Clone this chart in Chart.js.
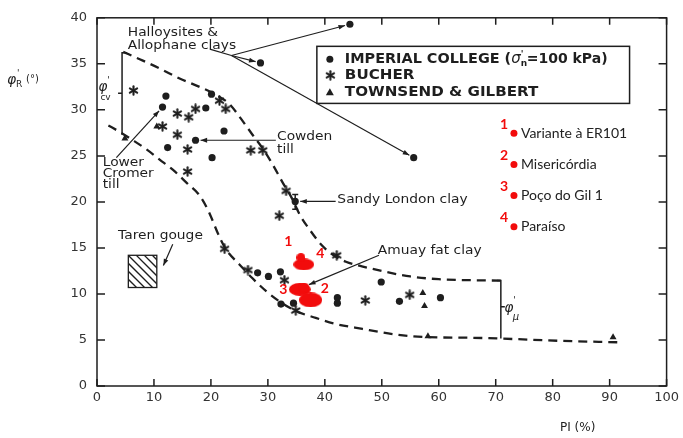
<!DOCTYPE html>
<html>
<head>
<meta charset="utf-8">
<script src="https://cdn.jsdelivr.net/npm/chart.js@4.4.0/dist/chart.umd.min.js"></script>
<style>
  html, body { margin: 0; padding: 0; background: #fff; }
</style>
</head>
<body>
<canvas id="chart" width="683" height="438"></canvas>
<script>
'use strict';

// Imperial College ring shear (circles)
const imperialX = [12.1, 11.5, 20.1, 19.1, 22.3, 17.3, 12.4, 20.2, 28.7, 44.4, 55.6, 34.8,
                   28.2, 30.1, 32.2, 32.3, 34.5, 42.2, 42.2, 49.9, 53.1, 60.3];
const imperialY = [31.5, 30.3, 31.7, 30.2, 27.7, 26.7, 25.9, 24.8, 35.1, 39.3, 24.8, 20.05,
                   12.3, 11.9, 12.4, 8.9, 9.0, 9.6, 9.0, 11.3, 9.2, 9.6];

// Bucher (stars)
const bucherX = [6.4, 14.1, 16.1, 17.3, 21.5, 22.6, 11.5, 14.1, 15.9, 15.9, 27.0, 29.1,
                 33.2, 32.0, 22.4, 42.1, 26.5, 32.9, 34.9, 47.1, 54.9];
const bucherY = [32.1, 29.6, 29.2, 30.1, 31.0, 30.1, 28.2, 27.3, 25.7, 23.3, 25.6, 25.6,
                 21.2, 18.5, 14.9, 14.2, 12.6, 11.5, 8.2, 9.3, 9.9];

// Townsend & Gilbert (triangles)
const townsendX = [4.9, 10.5, 57.2, 57.5, 58.1, 90.6];
const townsendY = [26.9, 28.2, 10.1, 8.7, 5.4, 5.3];

// envelope curves (dashed)
const upperX = [4.6, 7.5, 11, 14.5, 18, 21, 23.3, 25.2, 27.3, 29.1, 30.8, 32.6, 34.3, 35.6,
                37.2, 39.3, 41.1, 43.7, 46.5, 50.7, 55, 60, 65, 70.9];
const upperY = [36.3, 35.5, 34.5, 33.4, 32.5, 31.6, 30.6, 29.1, 27.3, 25.8, 24.1, 22.1, 20.3, 18.6,
                17.1, 15.4, 14.4, 13.5, 13.0, 12.4, 11.9, 11.6, 11.5, 11.45];
const lowerX = [2, 4, 6.3, 8.7, 11, 13.3, 15.7, 18, 19.5, 21.5, 22.7, 25, 27.3, 29.7, 32, 34.9,
                38.4, 41.5, 46.6, 52.4, 58.2, 65, 71, 81.5, 91.4];
const lowerY = [28.3, 27.6, 26.7, 25.7, 24.6, 23.5, 22.1, 20.7, 19.1, 16.2, 14.8, 13.2, 11.7, 10.3, 9.2, 8.15,
                7.4, 6.8, 6.2, 5.6, 5.3, 5.25, 5.15, 4.9, 4.75];

// local samples (red marks)
const siteNames = ['Variante à ER101', 'Misericórdia', 'Poço do Gil 1', 'Paraíso'];
const siteX = [36.3, 35.8, 35.6, 36.3, 37.5];
const siteY = [13.2, 13.95, 10.5, 10.7, 9.35];

// axis ticks
const xTicks = [0, 10, 20, 30, 40, 50, 60, 70, 80, 90, 100];
const yTicks = [0, 5, 10, 15, 20, 25, 30, 35, 40];

const INK = '#1e1e1e';
const RED = '#f20c0c';
const SCAN_FONT = '"DejaVu Sans", sans-serif';

const toPoints = (xs, ys) => xs.map((x, i) => ({ x, y: ys[i] }));

// marker images
function makeStar() {
  const c = document.createElement('canvas');
  c.width = 11; c.height = 11;
  const g = c.getContext('2d');
  g.strokeStyle = INK;
  g.lineWidth = 2.1;
  g.lineCap = 'round';
  [90, 30, 150].forEach(a => {
    const r = a * Math.PI / 180;
    g.beginPath();
    g.moveTo(5.5 - 4.2 * Math.cos(r), 5.5 - 4.2 * Math.sin(r));
    g.lineTo(5.5 + 4.2 * Math.cos(r), 5.5 + 4.2 * Math.sin(r));
    g.stroke();
  });
  return c;
}

function makeBlob(w, h) {
  const c = document.createElement('canvas');
  c.width = w; c.height = h;
  const g = c.getContext('2d');
  g.fillStyle = RED;
  g.beginPath();
  g.ellipse(w / 2, h / 2, w / 2, h / 2, 0, 0, Math.PI * 2);
  g.fill();
  return c;
}

const starImg = makeStar();
const siteStyles = [makeBlob(21, 12), makeBlob(9, 9), makeBlob(22, 13), makeBlob(11, 10), makeBlob(23, 15)];

// annotations (data coordinates)
const arrows = [
  { from: [23.6, 35.9], to: [44.4, 39.3] },
  { from: [23.6, 35.9], to: [28.7, 35.1] },
  { from: [23.6, 35.9], to: [55.6, 24.8] },
  { from: [31.4, 26.7], to: [17.3, 26.7] },
  { from: [3.4, 24.8], to: [11.5, 30.3] },
  { from: [41.9, 20.05], to: [34.8, 20.05] },
  { from: [13.3, 15.4], to: [11.3, 12.6] },
  { from: [49.5, 14.2], to: [36.4, 10.8] }
];

const notes = [
  { text: 'Halloysites &', x: 5.4, y: 38.4 },
  { text: 'Allophane clays', x: 5.4, y: 36.9 },
  { text: 'Cowden', x: 31.6, y: 27.1 },
  { text: 'till', x: 31.6, y: 25.7 },
  { text: 'Lower', x: 1.0, y: 24.2 },
  { text: 'Cromer', x: 1.0, y: 23.0 },
  { text: 'till', x: 1.0, y: 21.8 },
  { text: 'Sandy London clay', x: 42.2, y: 20.2 },
  { text: 'Taren gouge', x: 3.7, y: 16.3 },
  { text: 'Amuay fat clay', x: 49.3, y: 14.7 }
];

const siteLabels = [
  { text: '1', x: 33.6, y: 15.7 },
  { text: '4', x: 39.2, y: 14.4 },
  { text: '3', x: 32.7, y: 10.5 },
  { text: '2', x: 40.0, y: 10.6 }
];

function drawArrow(ctx, x1, y1, x2, y2) {
  const a = Math.atan2(y2 - y1, x2 - x1);
  const ex = x2 - 5 * Math.cos(a), ey = y2 - 5 * Math.sin(a);
  ctx.beginPath();
  ctx.moveTo(x1, y1);
  ctx.lineTo(ex, ey);
  ctx.stroke();
  ctx.beginPath();
  ctx.moveTo(ex, ey);
  ctx.lineTo(ex - 7 * Math.cos(a - 0.35), ey - 7 * Math.sin(a - 0.35));
  ctx.lineTo(ex - 7 * Math.cos(a + 0.35), ey - 7 * Math.sin(a + 0.35));
  ctx.closePath();
  ctx.fill();
}

// the scanned lettering is wide and low, so stretch it sideways
function wideText(ctx, text, x, y, sx) {
  ctx.save();
  ctx.translate(x, y);
  ctx.scale(sx, 1);
  ctx.fillText(text, 0, 0);
  const w = ctx.measureText(text).width * sx;
  ctx.restore();
  return w;
}

const scanPlugin = {
  id: 'scan',
  afterDatasetsDraw(chart) {
    const ctx = chart.ctx;
    const { left, right, top, bottom } = chart.chartArea;
    const sx = chart.scales.x, sy = chart.scales.y;
    const px = v => sx.getPixelForValue(v);
    const py = v => sy.getPixelForValue(v);

    ctx.save();
    ctx.strokeStyle = INK;
    ctx.fillStyle = INK;
    ctx.lineWidth = 1.5;

    // frame and inward ticks
    ctx.strokeRect(left, top, right - left, bottom - top);
    xTicks.forEach(v => {
      const x = px(v);
      ctx.beginPath();
      ctx.moveTo(x, bottom); ctx.lineTo(x, bottom - 7);
      ctx.moveTo(x, top); ctx.lineTo(x, top + 7);
      ctx.stroke();
    });
    yTicks.forEach(v => {
      const y = py(v);
      ctx.beginPath();
      ctx.moveTo(left, y); ctx.lineTo(left + 8, y);
      ctx.moveTo(right, y); ctx.lineTo(right - 8, y);
      ctx.stroke();
    });

    // Halloysites lead line + arrows
    ctx.lineWidth = 1.2;
    ctx.beginPath();
    ctx.moveTo(px(19.8), py(36.6));
    ctx.lineTo(px(23.6), py(35.9));
    ctx.stroke();
    arrows.forEach(a => drawArrow(ctx, px(a.from[0]), py(a.from[1]), px(a.to[0]), py(a.to[1])));

    // Sandy London clay error bar
    ctx.lineWidth = 1.5;
    const ex = px(34.8);
    ctx.beginPath();
    ctx.moveTo(ex, py(20.8)); ctx.lineTo(ex, py(19.2));
    ctx.moveTo(ex - 3, py(20.8)); ctx.lineTo(ex + 3, py(20.8));
    ctx.moveTo(ex - 3, py(19.2)); ctx.lineTo(ex + 3, py(19.2));
    ctx.stroke();

    // phi'cv bracket
    const bx = px(4.4);
    ctx.beginPath();
    ctx.moveTo(bx + 5, py(36.2)); ctx.lineTo(bx, py(36.2));
    ctx.lineTo(bx, py(27.3));
    ctx.moveTo(bx, py(31.8)); ctx.lineTo(bx - 4, py(31.8));
    ctx.stroke();

    // phi'mu bracket
    const mx = px(70.9);
    ctx.beginPath();
    ctx.moveTo(mx - 4, py(11.45)); ctx.lineTo(mx, py(11.45));
    ctx.lineTo(mx, py(5.15));
    ctx.moveTo(mx, py(8.6)); ctx.lineTo(mx + 4, py(8.6));
    ctx.stroke();

    // Taren gouge hatched box
    const hx0 = px(5.5), hx1 = px(10.5), hy0 = py(14.2), hy1 = py(10.7);
    ctx.lineWidth = 1.3;
    ctx.strokeRect(hx0, hy0, hx1 - hx0, hy1 - hy0);
    ctx.save();
    ctx.beginPath();
    ctx.rect(hx0, hy0, hx1 - hx0, hy1 - hy0);
    ctx.clip();
    for (let d = -40; d < 40; d += 8) {
      ctx.beginPath();
      ctx.moveTo(hx0 + d, hy0);
      ctx.lineTo(hx0 + d + (hy1 - hy0), hy1);
      ctx.stroke();
    }
    ctx.restore();

    // scan annotations
    ctx.font = '12px ' + SCAN_FONT;
    ctx.textBaseline = 'middle';
    ctx.textAlign = 'left';
    notes.forEach(n => wideText(ctx, n.text, px(n.x), py(n.y), 1.15));

    // greek labels
    ctx.font = 'italic 14px ' + SCAN_FONT;
    ctx.fillText('φ', px(0.2), py(32.4));
    ctx.fillText('φ', px(71.5), py(8.4));
    ctx.font = '9px ' + SCAN_FONT;
    ctx.fillText('\'', px(1.8), py(33.2));
    ctx.fillText('cv', px(0.6), py(31.3));
    ctx.fillText('\'', px(73.1), py(9.3));
    ctx.font = 'italic 10px ' + SCAN_FONT;
    ctx.fillText('μ', px(73.0), py(7.5));

    // legend box
    const lx0 = px(38.6), lx1 = px(93.5), ly0 = py(36.9), ly1 = py(30.7);
    ctx.lineWidth = 1.5;
    ctx.strokeRect(lx0, ly0, lx1 - lx0, ly1 - ly0);
    const rows = [ly0 + 13, ly0 + 29, ly0 + 46];
    ctx.beginPath();
    ctx.arc(lx0 + 13, rows[0], 3.5, 0, Math.PI * 2);
    ctx.fill();
    ctx.drawImage(starImg, lx0 + 8, rows[1] - 5.5);
    ctx.beginPath();
    ctx.moveTo(lx0 + 13, rows[2] - 4); ctx.lineTo(lx0 + 17, rows[2] + 3); ctx.lineTo(lx0 + 9, rows[2] + 3);
    ctx.closePath(); ctx.fill();
    ctx.font = 'bold 14px ' + SCAN_FONT;
    let tx = lx0 + 28;
    tx += wideText(ctx, 'IMPERIAL COLLEGE (', tx, rows[0], 1.03);
    ctx.font = 'italic 15px ' + SCAN_FONT;
    ctx.fillText('σ', tx, rows[0]);
    const sw = ctx.measureText('σ').width;
    ctx.font = 'bold 9px ' + SCAN_FONT;
    ctx.fillText('\'', tx + sw, rows[0] - 5);
    ctx.fillText('n', tx + sw, rows[0] + 4);
    tx += sw + 6;
    ctx.font = 'bold 14px ' + SCAN_FONT;
    wideText(ctx, '=100 kPa)', tx, rows[0], 1.0);
    wideText(ctx, 'BUCHER', lx0 + 28, rows[1], 1.08);
    wideText(ctx, 'TOWNSEND & GILBERT', lx0 + 28, rows[2], 1.08);

    // red site legend
    const rx = px(73.2);
    siteNames.forEach((name, i) => {
      const ry = py(27.45 - i * 3.38);
      ctx.fillStyle = RED;
      ctx.beginPath();
      ctx.arc(rx, ry, 3.5, 0, Math.PI * 2);
      ctx.fill();
      ctx.font = 'bold 14px Lato, sans-serif';
      ctx.fillText(String(i + 1), rx - 14, ry - 9);
      ctx.font = '14px Lato, "Open Sans", sans-serif';
      ctx.fillStyle = '#222';
      ctx.fillText(name, rx + 7, ry);
    });

    // red point numbers
    ctx.fillStyle = RED;
    ctx.font = 'bold 14px Lato, sans-serif';
    ctx.textAlign = 'center';
    siteLabels.forEach(l => ctx.fillText(l.text, px(l.x), py(l.y)));

    // axis titles
    ctx.fillStyle = INK;
    ctx.textAlign = 'left';
    ctx.font = 'italic 14px ' + SCAN_FONT;
    ctx.fillText('φ', 7, 80);
    ctx.font = '9px ' + SCAN_FONT;
    ctx.fillText('\'', 17, 74);
    ctx.fillText('R', 16, 85);
    ctx.font = '10px ' + SCAN_FONT;
    ctx.fillText('(°)', 26, 79);
    ctx.font = '12px ' + SCAN_FONT;
    ctx.fillText('PI (%)', 560, 428);
    ctx.restore();
  }
};

new Chart(document.getElementById('chart'), {
  type: 'scatter',
  data: {
    datasets: [
      {
        type: 'line',
        data: toPoints(upperX, upperY),
        borderColor: INK,
        borderWidth: 2.3,
        borderDash: [9, 6],
        pointRadius: 0,
        cubicInterpolationMode: 'monotone',
        fill: false
      },
      {
        type: 'line',
        data: toPoints(lowerX, lowerY),
        borderColor: INK,
        borderWidth: 2.3,
        borderDash: [9, 6],
        pointRadius: 0,
        cubicInterpolationMode: 'monotone',
        fill: false
      },
      {
        label: 'IMPERIAL COLLEGE',
        data: toPoints(imperialX, imperialY),
        pointStyle: 'circle',
        pointRadius: 3.6,
        backgroundColor: INK,
        borderColor: INK,
        borderWidth: 0
      },
      {
        label: 'BUCHER',
        data: toPoints(bucherX, bucherY),
        pointStyle: starImg
      },
      {
        label: 'TOWNSEND & GILBERT',
        data: toPoints(townsendX, townsendY),
        pointStyle: 'triangle',
        pointRadius: 4,
        backgroundColor: INK,
        borderColor: INK,
        borderWidth: 0
      },
      {
        label: 'sites',
        data: toPoints(siteX, siteY),
        pointStyle: c => siteStyles[c.dataIndex]
      }
    ]
  },
  options: {
    responsive: false,
    animation: false,
    layout: { padding: { top: 13, right: 14, left: 0, bottom: 0 } },
    plugins: {
      legend: { display: false },
      tooltip: { enabled: false }
    },
    scales: {
      x: {
        type: 'linear',
        min: 0,
        max: 100,
        afterBuildTicks: s => { s.ticks = xTicks.map(v => ({ value: v })); },
        ticks: { color: '#333', font: { family: 'DejaVu Sans', size: 13 }, padding: 4, maxRotation: 0 },
        grid: { display: false, drawTicks: false },
        border: { display: false },
        afterFit: s => { s.height = 52; }
      },
      y: {
        type: 'linear',
        min: 0,
        max: 40,
        afterBuildTicks: s => { s.ticks = yTicks.map(v => ({ value: v })); },
        ticks: { color: '#333', font: { family: 'DejaVu Sans', size: 13 }, padding: 10 },
        grid: { display: false, drawTicks: false },
        border: { display: false },
        afterFit: s => { s.width = 97; }
      }
    }
  },
  plugins: [scanPlugin]
});
</script>
</body>
</html>
